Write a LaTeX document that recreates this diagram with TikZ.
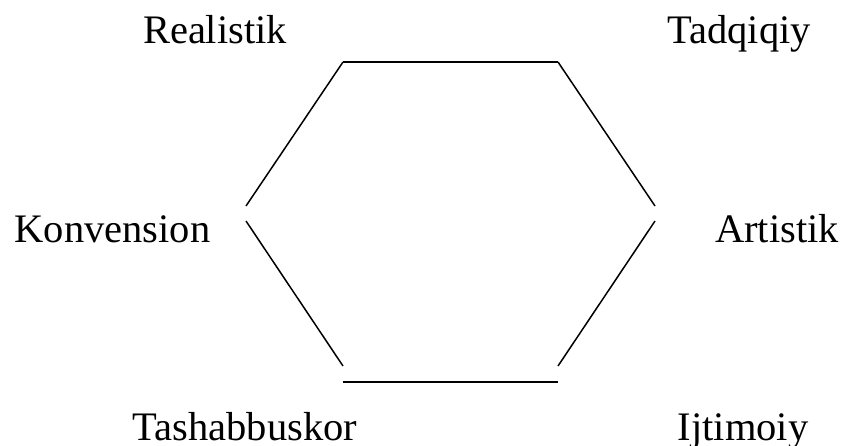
\documentclass[tikz,border=0pt]{standalone}
\usepackage{fontspec}
\setmainfont{Liberation Serif}
\begin{document}
\begin{tikzpicture}[x=1pt,y=-1pt,
  lbl/.style={anchor=base,inner sep=0pt,font=\fontsize{40.5}{48}\selectfont},
  edge/.style={line width=1.5pt,black}]
\useasboundingbox (0,0) rectangle (843,446);
% hexagon end points
\coordinate (t1) at (343,62);
\coordinate (t2) at (558,62);
\coordinate (r1) at (655,206);
\coordinate (r2) at (655,221);
\coordinate (b2) at (558,382);
\coordinate (b2d) at (558,366);
\coordinate (b1) at (343,382);
\coordinate (b1d) at (343,366);
\coordinate (l1) at (246,221);
\coordinate (l2) at (246,206);
\draw[edge] (t1) -- (t2);
\draw[edge] (t2) -- (r1);
\draw[edge] (r2) -- (b2d);
\draw[edge] (b2) -- (b1);
\draw[edge] (b1d) -- (l1);
\draw[edge] (l2) -- (t1);
% labels
\node[lbl] (real) at (215,44) {Realistik};
\node[lbl] (tadq) at (739,44) {Tadqiqiy};
\node[lbl] (konv) at (112.5,243) {Konvension};
\node[lbl] (art) at (777,243) {Artistik};
\node[lbl] (tash) at (245,440) {Tashabbuskor};
\node[lbl] (ijt) at (743,440) {Ijtimoiy};
\end{tikzpicture}
\end{document}
